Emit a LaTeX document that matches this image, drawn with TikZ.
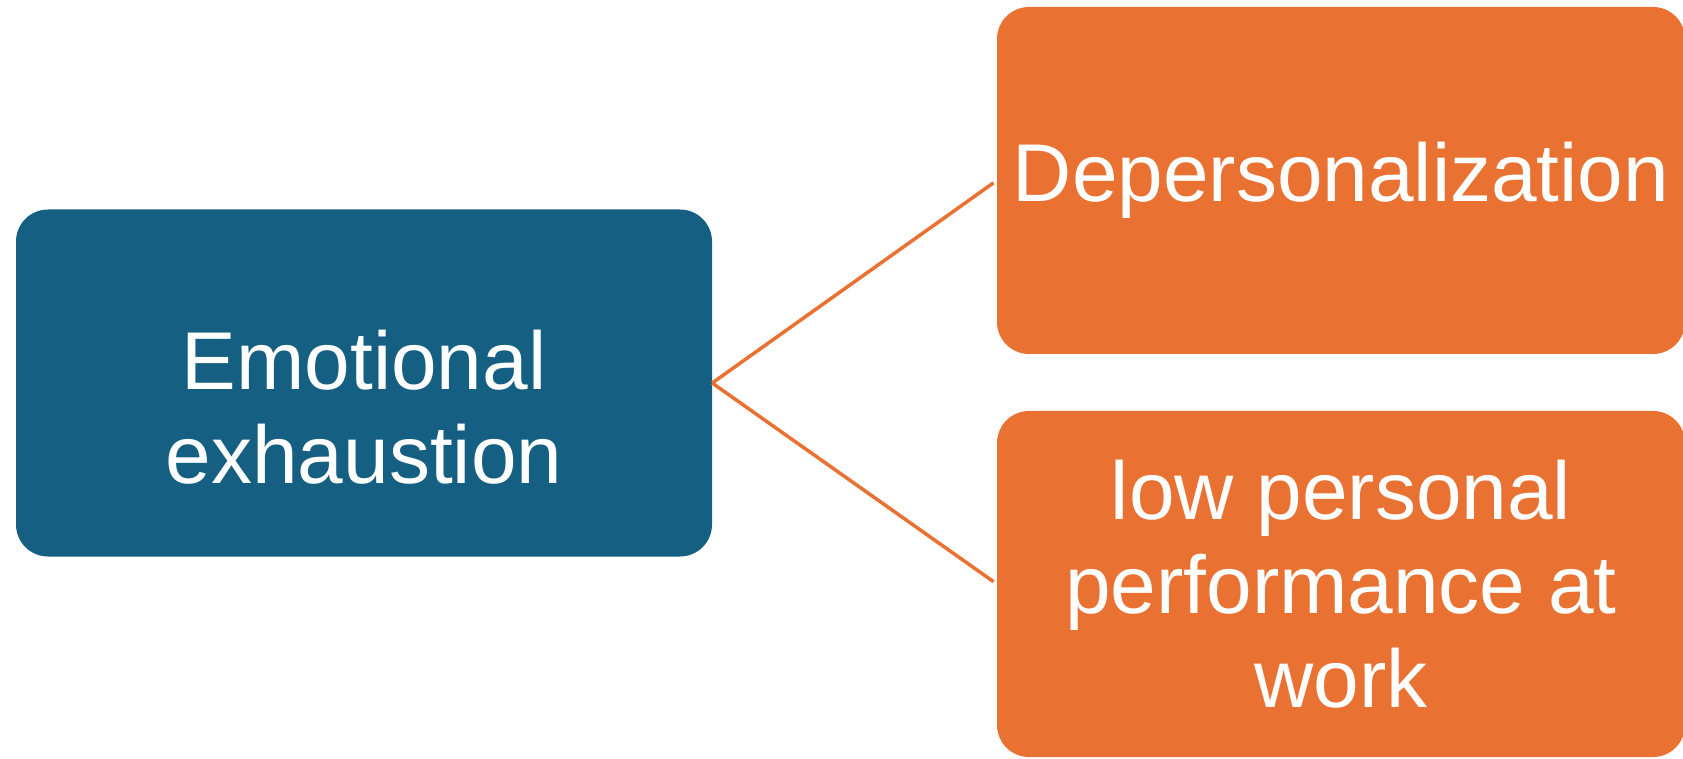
\documentclass[tikz,border=0pt]{standalone}
\usepackage{fontspec}
\setmainfont{Liberation Sans}
\definecolor{burnblue}{HTML}{156082}
\definecolor{burnorange}{HTML}{E97132}

\tikzset{
  card/.style={rounded corners=32pt, inner sep=0pt, text=white, align=center,
    font=\fontsize{82}{94}\selectfont},
  link/.style={draw=burnorange, line width=3.5pt, shorten >=4pt}
}

\begin{document}
\begin{tikzpicture}[x=1pt, y=1pt]
  % Page size of the reference
  \useasboundingbox (0,0) rectangle (1683,758);

  % Left box
  \node[card, fill=burnblue, minimum width=696pt, minimum height=347pt, text height=202pt] (emo) at (364,375)
    {Emotional\\exhaustion};

  % Right boxes
  \node[card, fill=burnorange, minimum width=688pt, minimum height=347pt] (depers) at (1341,577.5)
    {Depersonalization};
  \node[card, fill=burnorange, minimum width=688pt, minimum height=346pt] (perf) at (1341,174)
    {low personal\\performance at\\work};

  % Connectors
  \draw[link] (emo.east) -- (depers.west);
  \draw[link] (emo.east) -- (perf.west);
\end{tikzpicture}
\end{document}
